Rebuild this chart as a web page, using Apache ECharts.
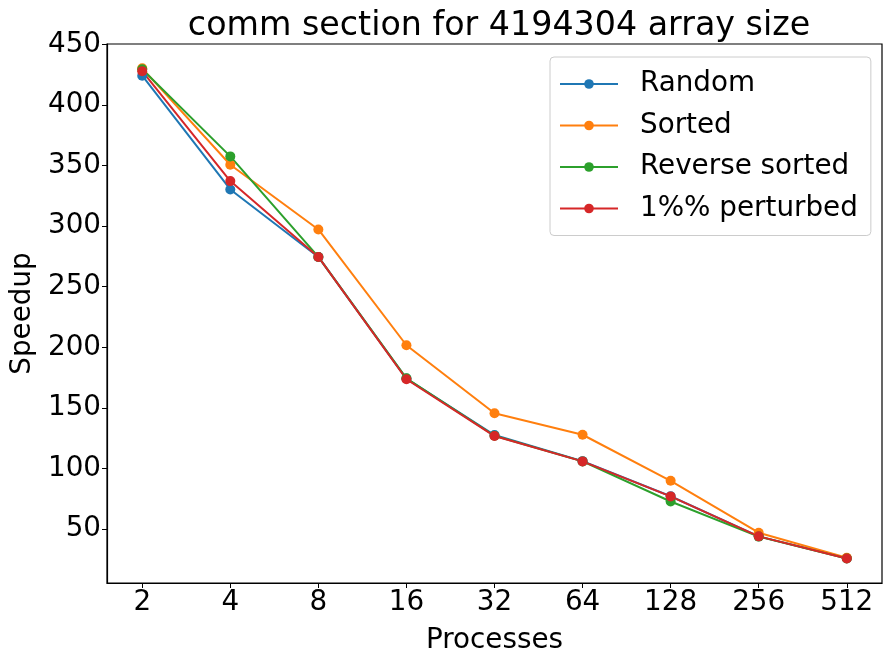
<!DOCTYPE html>
<html>
<head>
<meta charset="utf-8">
<script src="https://cdn.jsdelivr.net/npm/echarts@6/dist/echarts.min.js"></script>
<style>
html, body { margin: 0; padding: 0; background: #fff; }
#chart { width: 891px; height: 664px; }
</style>
</head>
<body>
<div id="chart"></div>
<script>
var processes = ['2', '4', '8', '16', '32', '64', '128', '256', '512'];
var randomSpeedup = [424.2, 330.3, 274.6, 174.2, 127.6, 106.0, 77.0, 43.9, 25.8];
var sortedSpeedup = [430.3, 350.7, 297.3, 201.7, 145.5, 127.8, 89.8, 46.9, 26.2];
var reverseSpeedup = [429.5, 357.6, 274.6, 174.4, 127.0, 105.8, 72.7, 43.7, 25.6];
var perturbedSpeedup = [428.0, 337.2, 274.6, 173.6, 126.7, 105.8, 76.9, 43.9, 25.6];
var yTicks = [50, 100, 150, 200, 250, 300, 350, 400, 450];

var font = 'DejaVu Sans';
var fs = 27.8;

function pairs(vals) {
    return vals.map(function (v, i) { return [i, v]; });
}

function mkSeries(name, color, vals) {
    return {
        name: name,
        type: 'line',
        data: pairs(vals),
        symbol: 'circle',
        symbolSize: 10,
        itemStyle: { color: color },
        lineStyle: { color: color, width: 2 },
        emphasis: { disabled: true },
        animation: false
    };
}

var chart = echarts.init(document.getElementById('chart'));
chart.setOption({
    backgroundColor: '#fff',
    title: {
        text: 'comm section for 4194304 array size',
        left: 494, top: 5, textAlign: 'center',
        textStyle: { fontFamily: font, fontSize: 33.3, fontWeight: 'normal', color: '#000' }
    },
    grid: { left: 107, right: 9, top: 44, bottom: 81, show: true, borderColor: '#000', borderWidth: 1.2 },
    legend: {
        orient: 'vertical',
        left: 550, top: 57,
        padding: [13, 13, 13, 9],
        itemWidth: 58, itemHeight: 12, itemGap: 13.5,
        backgroundColor: '#fff',
        borderColor: '#ccc', borderWidth: 1, borderRadius: 4,
        textStyle: { fontFamily: font, fontSize: fs, color: '#000', padding: [0, 0, 0, 17] },
        data: ['Random', 'Sorted', 'Reverse sorted', '1%% perturbed']
    },
    xAxis: {
        type: 'value',
        min: -0.4, max: 8.4,
        name: 'Processes', nameLocation: 'middle', nameGap: 44,
        nameTextStyle: { fontFamily: font, fontSize: fs, color: '#000' },
        splitLine: { show: false },
        axisLine: { show: true, onZero: false, lineStyle: { color: '#000', width: 1.2 } },
        axisTick: { show: true, length: 5, lineStyle: { color: '#000' }, customValues: [0, 1, 2, 3, 4, 5, 6, 7, 8] },
        axisLabel: {
            fontFamily: font, fontSize: fs, color: '#000', margin: 6,
            customValues: [0, 1, 2, 3, 4, 5, 6, 7, 8],
            formatter: function (v) { return processes[Math.round(v)]; }
        }
    },
    yAxis: {
        type: 'value',
        min: 5.4, max: 450.4,
        name: 'Speedup', nameLocation: 'middle', nameGap: 63,
        nameTextStyle: { fontFamily: font, fontSize: fs, color: '#000' },
        splitLine: { show: false },
        axisLine: { show: true, onZero: false, lineStyle: { color: '#000', width: 1.2 } },
        axisTick: { show: true, length: 5, lineStyle: { color: '#000' }, customValues: yTicks },
        axisLabel: { fontFamily: font, fontSize: fs, color: '#000', margin: 6, customValues: yTicks }
    },
    series: [
        mkSeries('Random', '#1f77b4', randomSpeedup),
        mkSeries('Sorted', '#ff7f0e', sortedSpeedup),
        mkSeries('Reverse sorted', '#2ca02c', reverseSpeedup),
        mkSeries('1%% perturbed', '#d62728', perturbedSpeedup)
    ]
});
</script>
</body>
</html>
